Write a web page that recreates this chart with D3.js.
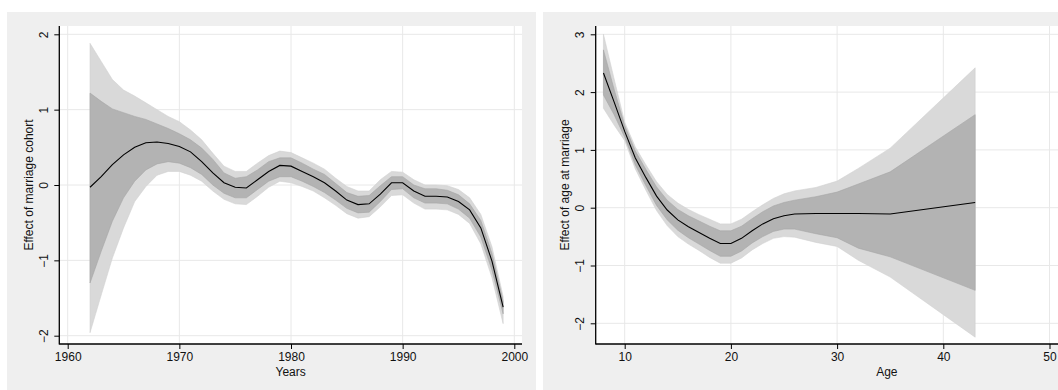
<!DOCTYPE html>
<html><head><meta charset="utf-8">
<script src="https://cdn.jsdelivr.net/npm/d3@7"></script>
<style>
body{margin:0;background:#fff}
svg{display:block}
text{font-family:"Liberation Sans",Arial,Helvetica,sans-serif;fill:#111}
</style>
</head><body>
<svg id="chart" width="1058" height="390"></svg>
<script>
// ---- Left panel: marriage cohort ----
const cohortYears = [1962,1963,1964,1965,1966,1967,1968,1969,1970,1971,1972,1973,1974,1975,1976,1977,1978,1979,1980,1981,1982,1983,1984,1985,1986,1987,1988,1989,1990,1991,1992,1993,1994,1995,1996,1997,1998,1999];
const cohortEffect = [-0.03,0.11,0.27,0.40,0.50,0.56,0.57,0.55,0.51,0.44,0.31,0.16,0.03,-0.03,-0.04,0.07,0.18,0.26,0.25,0.18,0.11,0.03,-0.08,-0.20,-0.26,-0.25,-0.12,0.03,0.03,-0.08,-0.15,-0.15,-0.16,-0.22,-0.33,-0.57,-1.01,-1.62];
const cohortInnerUpper = [1.22,1.11,1.01,0.96,0.91,0.87,0.81,0.75,0.68,0.60,0.49,0.34,0.16,0.09,0.11,0.20,0.31,0.36,0.36,0.29,0.21,0.14,0.02,-0.10,-0.15,-0.14,-0.01,0.11,0.11,0.00,-0.05,-0.05,-0.07,-0.13,-0.25,-0.47,-0.91,-1.54];
const cohortInnerLower = [-1.30,-0.88,-0.48,-0.17,0.05,0.20,0.28,0.31,0.29,0.23,0.14,0.00,-0.11,-0.17,-0.17,-0.06,0.05,0.11,0.11,0.05,-0.02,-0.10,-0.20,-0.31,-0.37,-0.36,-0.22,-0.06,-0.05,-0.17,-0.24,-0.24,-0.25,-0.32,-0.44,-0.69,-1.13,-1.71];
const cohortOuterUpper = [1.88,1.64,1.40,1.26,1.18,1.09,1.00,0.91,0.84,0.73,0.60,0.42,0.25,0.18,0.18,0.29,0.39,0.45,0.43,0.36,0.29,0.21,0.09,-0.02,-0.08,-0.08,0.07,0.18,0.17,0.07,0.00,0.00,-0.01,-0.06,-0.17,-0.39,-0.82,-1.48];
const cohortOuterLower = [-1.96,-1.46,-0.97,-0.57,-0.22,-0.02,0.13,0.18,0.18,0.13,0.05,-0.08,-0.19,-0.25,-0.26,-0.15,-0.03,0.05,0.03,-0.02,-0.08,-0.17,-0.27,-0.38,-0.44,-0.42,-0.29,-0.14,-0.13,-0.24,-0.32,-0.32,-0.33,-0.39,-0.51,-0.78,-1.23,-1.84];
const cohortXTicks = [1960,1970,1980,1990,2000];
const cohortYTicks = [-2,-1,0,1,2];

// ---- Right panel: age at marriage ----
const ages = [8,9,10,11,12,13,14,15,16,17,18,19,20,21,22,23,24,25,26,28,30,32,35,43];
const ageEffect = [2.33,1.83,1.32,0.86,0.52,0.20,-0.04,-0.21,-0.33,-0.43,-0.53,-0.62,-0.62,-0.53,-0.40,-0.28,-0.19,-0.14,-0.11,-0.10,-0.10,-0.10,-0.11,0.09];
const ageInnerUpper = [2.73,2.05,1.42,0.98,0.66,0.36,0.13,-0.03,-0.14,-0.23,-0.32,-0.40,-0.40,-0.32,-0.19,-0.07,0.03,0.09,0.13,0.19,0.27,0.41,0.62,1.61];
const ageInnerLower = [1.95,1.61,1.22,0.74,0.38,0.04,-0.21,-0.39,-0.52,-0.63,-0.74,-0.84,-0.84,-0.75,-0.61,-0.50,-0.41,-0.37,-0.37,-0.45,-0.52,-0.70,-0.85,-1.43];
const ageOuterUpper = [3.00,2.23,1.48,1.05,0.74,0.45,0.23,0.08,-0.03,-0.12,-0.20,-0.28,-0.28,-0.20,-0.07,0.05,0.16,0.24,0.29,0.35,0.46,0.68,1.03,2.42];
const ageOuterLower = [1.72,1.43,1.16,0.67,0.30,-0.05,-0.31,-0.50,-0.63,-0.74,-0.86,-0.96,-0.96,-0.87,-0.73,-0.62,-0.53,-0.50,-0.51,-0.60,-0.67,-0.91,-1.20,-2.24];
const ageXTicks = [10,20,30,40,50];
const ageYTicks = [-2,-1,0,1,2,3];

const svg = d3.select("#chart");

function panel(cfg) {
  const g = svg.append("g");
  g.append("rect").attr("x", cfg.bg[0]).attr("y", 12)
    .attr("width", cfg.bg[1] - cfg.bg[0]).attr("height", 378).attr("fill", "#efefef");
  const clipId = "clip" + cfg.id;
  svg.append("clipPath").attr("id", clipId).append("rect")
    .attr("x", cfg.plot[0]).attr("y", 26)
    .attr("width", cfg.plot[1] - cfg.plot[0]).attr("height", 344 - 26);
  g.append("rect").attr("x", cfg.plot[0]).attr("y", 26)
    .attr("width", cfg.plot[1] - cfg.plot[0]).attr("height", 344 - 26).attr("fill", "#fff");

  const x = d3.scaleLinear().domain(cfg.xDom).range(cfg.xRange);
  const y = d3.scaleLinear().domain(cfg.yDom).range(cfg.yRange);

  const inner = g.append("g").attr("clip-path", `url(#${clipId})`);
  inner.selectAll(".vg").data(cfg.xTicks).enter().append("line")
    .attr("x1", d => x(d)).attr("x2", d => x(d)).attr("y1", 26).attr("y2", 344)
    .attr("stroke", "#e8e8e8").attr("stroke-width", 1);
  inner.selectAll(".hg").data(cfg.yTicks).enter().append("line")
    .attr("y1", d => y(d)).attr("y2", d => y(d)).attr("x1", cfg.plot[0]).attr("x2", cfg.plot[1])
    .attr("stroke", "#e8e8e8").attr("stroke-width", 1);

  const pts = cfg.xs.map((v, i) => i);
  const area = (up, lo) => d3.area().x(i => x(cfg.xs[i])).y0(i => y(lo[i])).y1(i => y(up[i]));
  inner.append("path").attr("d", area(cfg.oU, cfg.oL)(pts))
    .attr("fill", "#d9d9d9").attr("stroke", "#d2d2d2").attr("stroke-width", 0.6);
  inner.append("path").attr("d", area(cfg.iU, cfg.iL)(pts))
    .attr("fill", "#b3b3b3").attr("stroke", "#a6a6a6").attr("stroke-width", 0.6);
  inner.append("path").attr("d", d3.line().x(i => x(cfg.xs[i])).y(i => y(cfg.ys[i]))(pts))
    .attr("fill", "none").attr("stroke", "#000").attr("stroke-width", 1.1);

  const xa = g.append("g").attr("transform", "translate(0,344)")
    .call(d3.axisBottom(x).tickValues(cfg.xTicks).tickSize(5).tickSizeOuter(0).tickFormat(d3.format("d")));
  xa.select(".domain").remove();
  xa.selectAll("line").attr("stroke", "#000");
  xa.selectAll("text").attr("font-size", 12).attr("y", 8).attr("dy", "0.71em")
    .attr("font-family", '"Liberation Sans",Arial,sans-serif').attr("fill", "#111");

  const ya = g.append("g").attr("transform", `translate(${cfg.plot[0]},0)`)
    .call(d3.axisLeft(y).tickValues(cfg.yTicks).tickSize(5).tickSizeOuter(0).tickFormat(d => d < 0 ? "\u2212" + Math.abs(d) : d));
  ya.select(".domain").remove();
  ya.selectAll("line").attr("stroke", "#000");
  ya.selectAll("text").attr("font-size", 12).attr("x", 0).attr("y", -16).attr("dy", "0.35em")
    .attr("text-anchor", "middle").attr("transform", "rotate(-90)")
    .attr("font-family", '"Liberation Sans",Arial,sans-serif').attr("fill", "#111");

  g.append("line").attr("x1", cfg.plot[0]).attr("x2", cfg.plot[0]).attr("y1", 26).attr("y2", 344.5)
    .attr("stroke", "#000").attr("stroke-width", 1.3);
  g.append("line").attr("x1", cfg.plot[0]).attr("x2", cfg.plot[1]).attr("y1", 344).attr("y2", 344)
    .attr("stroke", "#000").attr("stroke-width", 1.3);

  g.append("text").attr("x", (cfg.plot[0] + cfg.plot[1]) / 2).attr("y", 376)
    .attr("text-anchor", "middle").attr("font-size", 12).text(cfg.xTitle);
  g.append("text").attr("transform", `translate(${cfg.plot[0] - 31},${(26 + 344) / 2}) rotate(-90)`)
    .attr("text-anchor", "middle").attr("dy", "0.35em").attr("font-size", 12).text(cfg.yTitle);
}

panel({
  id: "L", bg: [7, 536], plot: [59.3, 522],
  xDom: [1960, 2000], xRange: [67.7, 514.3],
  yDom: [-2, 2], yRange: [335.7, 34.3],
  xs: cohortYears, ys: cohortEffect,
  iU: cohortInnerUpper, iL: cohortInnerLower, oU: cohortOuterUpper, oL: cohortOuterLower,
  xTicks: cohortXTicks, yTicks: cohortYTicks,
  xTitle: "Years", yTitle: "Effect of marriage cohort"
});
panel({
  id: "R", bg: [543, 1058], plot: [595.7, 1178],
  xDom: [10, 50], xRange: [624.7, 1049.5],
  yDom: [-2, 3], yRange: [323.3, 34.3],
  xs: ages, ys: ageEffect,
  iU: ageInnerUpper, iL: ageInnerLower, oU: ageOuterUpper, oL: ageOuterLower,
  xTicks: ageXTicks, yTicks: ageYTicks,
  xTitle: "Age", yTitle: "Effect of age at marriage"
});
</script>
</body></html>
